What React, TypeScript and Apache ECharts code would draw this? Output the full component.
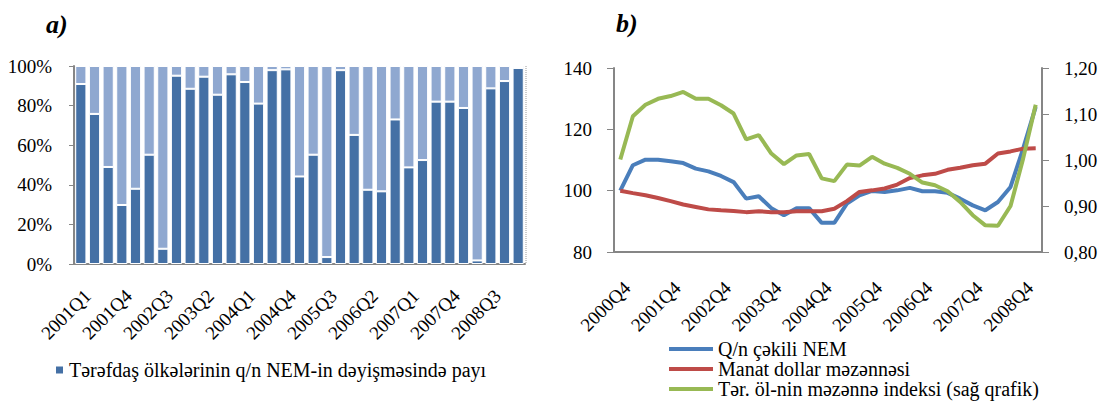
import React, { useEffect, useRef } from "react";
import * as echarts from "echarts";

const FONT = "Liberation Serif, Times New Roman, serif";
const GRAY = "#868686";

const quartersA = [
  "2001Q1", "2001Q2", "2001Q3", "2001Q4", "2002Q1", "2002Q2", "2002Q3", "2002Q4",
  "2003Q1", "2003Q2", "2003Q3", "2003Q4", "2004Q1", "2004Q2", "2004Q3", "2004Q4",
  "2005Q1", "2005Q2", "2005Q3", "2005Q4", "2006Q1", "2006Q2", "2006Q3", "2006Q4",
  "2007Q1", "2007Q2", "2007Q3", "2007Q4", "2008Q1", "2008Q2", "2008Q3", "2008Q4",
  "2009Q1",
];
const partnerShare = [
  90.9, 75.8, 49.0, 29.8, 38.0, 55.2, 7.7, 95.1, 88.5, 94.6, 85.5, 95.8, 91.9, 81.0,
  97.9, 98.3, 44.2, 55.2, 3.5, 97.9, 65.2, 37.5, 36.7, 73.0, 48.8, 52.5, 82.0, 82.0,
  78.8, 1.8, 88.7, 92.4, 99.0,
];
const otherShare = [
  9.1, 24.2, 51.0, 70.2, 62.0, 44.8, 92.3, 4.9, 11.5, 5.4, 14.5, 4.2, 8.1, 19.0,
  2.1, 1.7, 55.8, 44.8, 96.5, 2.1, 34.8, 62.5, 63.3, 27.0, 51.2, 47.5, 18.0, 18.0,
  21.2, 98.2, 11.3, 7.6, 1.0,
];

const quartersB = [
  "2000Q4", "2001Q1", "2001Q2", "2001Q3", "2001Q4", "2002Q1", "2002Q2", "2002Q3",
  "2002Q4", "2003Q1", "2003Q2", "2003Q3", "2003Q4", "2004Q1", "2004Q2", "2004Q3",
  "2004Q4", "2005Q1", "2005Q2", "2005Q3", "2005Q4", "2006Q1", "2006Q2", "2006Q3",
  "2006Q4", "2007Q1", "2007Q2", "2007Q3", "2007Q4", "2008Q1", "2008Q2", "2008Q3",
  "2008Q4", "2009Q1",
];
const neer = [
  100.0, 108.3, 110.1, 110.1, 109.6, 109.0, 107.2, 106.3, 104.8, 102.8, 97.4, 98.2,
  94.3, 92.0, 94.3, 94.3, 89.5, 89.5, 95.8, 98.5, 99.9, 99.6, 100.1, 100.9, 99.8,
  99.8, 99.3, 97.4, 95.2, 93.6, 96.3, 101.2, 113.7, 127.3,
];
const manatUsd = [
  100.0, 99.2, 98.5, 97.6, 96.6, 95.5, 94.7, 93.9, 93.6, 93.4, 93.0, 93.3, 93.0,
  93.0, 93.3, 93.3, 93.3, 94.1, 96.6, 99.6, 100.1, 100.7, 102.0, 104.1, 105.0, 105.5,
  106.8, 107.5, 108.3, 108.8, 112.1, 112.8, 113.7, 113.8,
];
const partnerIndex = [
  1.001, 1.095, 1.12, 1.133, 1.139, 1.148, 1.133, 1.133, 1.119, 1.101, 1.045, 1.054,
  1.014, 0.991, 1.01, 1.013, 0.96, 0.954, 0.99, 0.988, 1.007, 0.992, 0.983, 0.97,
  0.951, 0.945, 0.932, 0.909, 0.88, 0.858, 0.857, 0.9, 1.003, 1.12,
];

const nameA = "Tərəfdaş ölkələrinin q/n NEM-in dəyişməsində payı";
const nameOther = "Digər";
const nameNeer = "Q/n çəkili NEM";
const nameManat = "Manat dollar məzənnəsi";
const namePartner = "Tər. öl-nin məzənnə indeksi (sağ qrafik)";

export default function App() {
  const ref = useRef<HTMLDivElement>(null);
  useEffect(() => {
    if (!ref.current) return;
    const chart = echarts.init(ref.current, null, { renderer: "svg" });
    const axisLabel = { color: "#000", fontFamily: FONT, fontSize: 19 };
    const titleStyle = {
      fontFamily: FONT,
      fontSize: 26,
      fontStyle: "italic" as const,
      fontWeight: "bold" as const,
      color: "#000",
    };
    chart.setOption({
      animation: false,
      textStyle: { fontFamily: FONT },
      title: [
        { text: "a)", left: 41, top: 6, textStyle: titleStyle },
        { text: "b)", left: 611, top: 5, textStyle: titleStyle },
      ],
      grid: [
        { left: 74, top: 66, width: 451, height: 198 },
        { left: 614, top: 68, width: 428, height: 184 },
      ],
      graphic: [
        {
          type: "line",
          shape: { x1: 526, y1: 66, x2: 526, y2: 264 },
          style: { stroke: "#9a9a9a", lineWidth: 1, lineDash: [1, 1] },
          silent: true,
        },
      ],
      xAxis: [
        {
          type: "category",
          gridIndex: 0,
          data: quartersA,
          axisLine: { lineStyle: { color: GRAY, width: 2 } },
          axisTick: { interval: 0, length: 5, lineStyle: { color: GRAY } },
          axisLabel: {
            ...axisLabel,
            interval: 2,
            rotate: 45,
            margin: 22,
            align: "right",
            verticalAlign: "top",
          },
        },
        {
          type: "category",
          gridIndex: 1,
          data: quartersB,
          axisLine: { lineStyle: { color: GRAY, width: 2 } },
          axisTick: { interval: 0, length: 6, lineStyle: { color: GRAY } },
          axisLabel: {
            ...axisLabel,
            interval: 3,
            rotate: 45,
            margin: 26,
            align: "right",
            verticalAlign: "top",
          },
        },
      ],
      yAxis: [
        {
          type: "value",
          gridIndex: 0,
          min: 0,
          max: 100,
          interval: 20,
          axisLine: { show: true, lineStyle: { color: GRAY, width: 2 } },
          axisTick: { show: true, length: 5, lineStyle: { color: GRAY } },
          splitLine: { show: false },
          axisLabel: { ...axisLabel, formatter: "{value}%", margin: 22 },
        },
        {
          type: "value",
          gridIndex: 1,
          min: 80,
          max: 140,
          interval: 20,
          axisLine: { show: true, lineStyle: { color: GRAY, width: 2 } },
          axisTick: { show: true, length: 7, lineStyle: { color: GRAY } },
          splitLine: { show: false },
          axisLabel: { ...axisLabel, margin: 22 },
        },
        {
          type: "value",
          gridIndex: 1,
          position: "right",
          min: 0.8,
          max: 1.2,
          interval: 0.1,
          axisLine: { show: true, lineStyle: { color: GRAY, width: 2 } },
          axisTick: { show: true, length: 7, lineStyle: { color: GRAY } },
          splitLine: { show: false },
          axisLabel: {
            ...axisLabel,
            margin: 22,
            formatter: (v: number) => v.toFixed(2).replace(".", ","),
          },
        },
      ],
      legend: [
        {
          data: [nameA],
          left: 54,
          top: 360,
          padding: 0,
          icon: "rect",
          itemWidth: 9,
          itemHeight: 9,
          textStyle: { fontFamily: FONT, fontSize: 20, color: "#000" },
        },
        {
          data: [nameNeer, nameManat, namePartner],
          orient: "vertical",
          left: 669,
          top: 339,
          height: 61,
          padding: 0,
          icon: "rect",
          itemWidth: 44,
          itemHeight: 4,
          itemGap: 0,
          textStyle: { fontFamily: FONT, fontSize: 20, color: "#000", lineHeight: 17.5 },
        },
      ],
      series: [
        {
          name: nameA,
          type: "bar",
          stack: "share",
          xAxisIndex: 0,
          yAxisIndex: 0,
          data: partnerShare,
          barCategoryGap: "18%",
          itemStyle: { color: "#4470A5", borderColor: "#fff", borderWidth: 1 },
        },
        {
          name: nameOther,
          type: "bar",
          stack: "share",
          xAxisIndex: 0,
          yAxisIndex: 0,
          data: otherShare,
          barCategoryGap: "18%",
          itemStyle: { color: "#8FA8D0", borderColor: "#fff", borderWidth: 1 },
        },
        {
          name: nameNeer,
          type: "line",
          xAxisIndex: 1,
          yAxisIndex: 1,
          data: neer,
          symbol: "none",
          lineStyle: { color: "#4A7EBB", width: 4 },
          itemStyle: { color: "#4A7EBB" },
        },
        {
          name: nameManat,
          type: "line",
          xAxisIndex: 1,
          yAxisIndex: 1,
          data: manatUsd,
          symbol: "none",
          lineStyle: { color: "#BE4B48", width: 4 },
          itemStyle: { color: "#BE4B48" },
        },
        {
          name: namePartner,
          type: "line",
          xAxisIndex: 1,
          yAxisIndex: 2,
          data: partnerIndex,
          symbol: "none",
          lineStyle: { color: "#98B954", width: 4 },
          itemStyle: { color: "#98B954" },
        },
      ],
    });
    return () => chart.dispose();
  }, []);
  return (
    <div
      ref={ref}
      style={{ position: "absolute", left: 0, top: 0, width: 1107, height: 401, background: "#fff" }}
    />
  );
}
